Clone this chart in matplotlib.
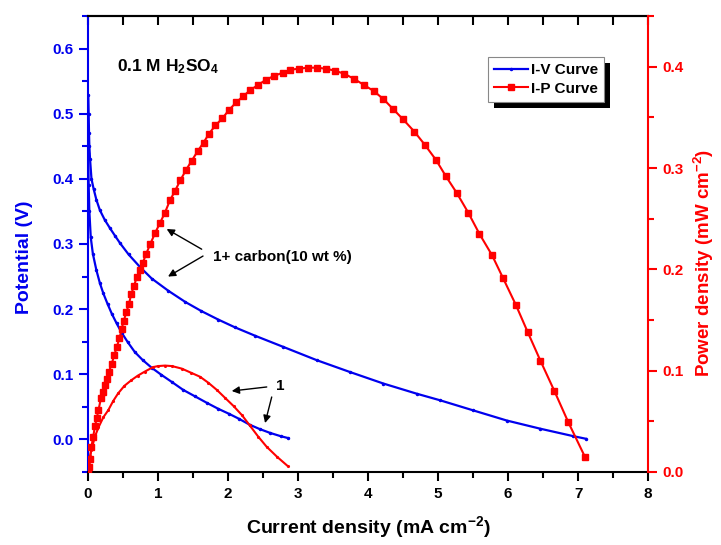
import matplotlib
matplotlib.use('Agg')
import matplotlib.pyplot as plt
from matplotlib.ticker import MultipleLocator, FormatStrFormatter
from matplotlib.patches import Rectangle
from matplotlib.transforms import IdentityTransform

plt.rcParams['font.family'] = ['Liberation Sans', 'DejaVu Sans']
plt.rcParams['font.weight'] = 'bold'
plt.rcParams['mathtext.fontset'] = 'custom'
plt.rcParams['mathtext.rm'] = 'Liberation Sans:bold'
plt.rcParams['mathtext.bf'] = 'Liberation Sans:bold'
plt.rcParams['mathtext.it'] = 'Liberation Sans:bold'

BLUE = '#0000ee'
RED = '#ff0000'

# I-V, electrode 1 + carbon (10 wt %)
iv_carbon_i = [0.005, 0.01, 0.015, 0.02, 0.03, 0.05, 0.08, 0.12, 0.17, 0.24,
               0.31, 0.39, 0.46, 0.58, 0.74, 0.91, 1.15, 1.39, 1.62, 1.86,
               2.1, 2.39, 2.79, 3.27, 3.74, 4.22, 4.70, 5.03, 5.50, 5.98,
               6.46, 6.93, 7.11]
iv_carbon_v = [0.528, 0.50, 0.47, 0.45, 0.43, 0.40, 0.385, 0.368, 0.352, 0.337,
               0.325, 0.312, 0.301, 0.284, 0.265, 0.247, 0.228, 0.211, 0.197, 0.184,
               0.172, 0.159, 0.142, 0.1215, 0.1035, 0.0857, 0.070, 0.060, 0.0446, 0.029,
               0.0164, 0.005, 0.001]

# I-V, electrode 1
iv_1_i = [0.003, 0.01, 0.02, 0.04, 0.07, 0.12, 0.17, 0.22, 0.28, 0.34,
          0.41, 0.48, 0.57, 0.67, 0.78, 0.91, 1.05, 1.2, 1.36, 1.53,
          1.70, 1.86, 2.02, 2.15, 2.31, 2.45, 2.6, 2.75, 2.86]
iv_1_v = [0.44, 0.39, 0.35, 0.31, 0.285, 0.26, 0.24, 0.224, 0.208, 0.193,
          0.178, 0.164, 0.149, 0.134, 0.122, 0.110, 0.099, 0.088, 0.076, 0.066,
          0.056, 0.047, 0.039, 0.032, 0.0225, 0.016, 0.010, 0.005, 0.002]

# I-P, electrode 1 + carbon (10 wt %)
ip_carbon_i = [0.0, 0.014, 0.03, 0.05, 0.075, 0.10, 0.125, 0.15, 0.186, 0.22,
               0.243, 0.276, 0.30, 0.34, 0.375, 0.41, 0.45, 0.48, 0.51, 0.55,
               0.586, 0.62, 0.66, 0.695, 0.74, 0.78, 0.83, 0.89, 0.96, 1.03,
               1.10, 1.17, 1.24, 1.32, 1.40, 1.48, 1.57, 1.65, 1.73, 1.82,
               1.92, 2.01, 2.12, 2.22, 2.32, 2.43, 2.54, 2.66, 2.78, 2.89,
               3.01, 3.14, 3.27, 3.40, 3.53, 3.66, 3.80, 3.94, 4.08, 4.22,
               4.36, 4.50, 4.66, 4.81, 4.97, 5.11, 5.27, 5.43, 5.59, 5.77,
               5.93, 6.11, 6.28, 6.46, 6.66, 6.86, 7.10]
ip_carbon_p = [0.0, 0.005, 0.013, 0.025, 0.035, 0.045, 0.053, 0.061, 0.073, 0.079,
               0.086, 0.092, 0.099, 0.107, 0.115, 0.123, 0.132, 0.141, 0.149, 0.158,
               0.166, 0.176, 0.184, 0.192, 0.199, 0.206, 0.215, 0.225, 0.236, 0.246,
               0.256, 0.268, 0.277, 0.288, 0.298, 0.307, 0.317, 0.325, 0.334, 0.342,
               0.349, 0.357, 0.365, 0.371, 0.377, 0.382, 0.387, 0.391, 0.394, 0.397,
               0.398, 0.399, 0.399, 0.398, 0.396, 0.393, 0.388, 0.382, 0.376, 0.368,
               0.358, 0.348, 0.336, 0.323, 0.308, 0.292, 0.275, 0.256, 0.235, 0.214,
               0.191, 0.165, 0.138, 0.110, 0.080, 0.049, 0.0145]

# I-P, electrode 1
ip_1_i = [0.0, 0.01, 0.03, 0.05, 0.10, 0.15, 0.22, 0.29, 0.36, 0.43,
          0.52, 0.62, 0.71, 0.81, 0.93, 1.0, 1.1, 1.2, 1.34, 1.47,
          1.6, 1.72, 1.84, 1.96, 2.08, 2.2, 2.31, 2.43, 2.55, 2.7, 2.85]
ip_1_p = [0.0, 0.008, 0.016, 0.022, 0.035, 0.044, 0.054, 0.061, 0.070, 0.0775,
          0.085, 0.0906, 0.095, 0.099, 0.1035, 0.1045, 0.105, 0.1045, 0.102, 0.098,
          0.094, 0.088, 0.081, 0.073, 0.065, 0.056, 0.046, 0.035, 0.025, 0.015, 0.006]

fig = plt.figure(figsize=(7.21, 5.45), dpi=100)
ax = fig.add_axes([0.122, 0.134, 0.777, 0.8366])
ax2 = ax.twinx()

line_iv, = ax.plot(iv_carbon_i, iv_carbon_v, color=BLUE, lw=1.6, marker='.', ms=3,
                   label='I-V Curve')
ax.plot(iv_1_i, iv_1_v, color=BLUE, lw=1.6, marker='.', ms=3)

line_ip, = ax2.plot(ip_carbon_i, ip_carbon_p, color=RED, lw=1.5, marker='s', ms=4,
                    label='I-P Curve')
ax2.plot(ip_1_i, ip_1_p, color=RED, lw=1.5, marker='.', ms=2.5)

ax.set_xlim(0, 8)
ax.set_ylim(-0.05, 0.65)
ax2.set_ylim(0, 0.45)

ax.xaxis.set_major_locator(MultipleLocator(1))
ax.xaxis.set_minor_locator(MultipleLocator(0.5))
ax.yaxis.set_major_locator(MultipleLocator(0.1))
ax.yaxis.set_minor_locator(MultipleLocator(0.05))
ax2.yaxis.set_major_locator(MultipleLocator(0.1))
ax2.yaxis.set_minor_locator(MultipleLocator(0.05))
ax.yaxis.set_major_formatter(FormatStrFormatter('%.1f'))
ax2.yaxis.set_major_formatter(FormatStrFormatter('%.1f'))

# spines
for sp in list(ax.spines.values()) + list(ax2.spines.values()):
    sp.set_linewidth(1.5)
ax.spines['left'].set_color(BLUE)
ax.spines['right'].set_visible(False)
ax2.spines['left'].set_visible(False)
ax2.spines['top'].set_visible(False)
ax2.spines['bottom'].set_visible(False)
ax2.spines['right'].set_color(RED)

ax.tick_params(axis='x', which='major', direction='out', length=6.5, width=1.5,
               labelsize=11, pad=4, colors='black')
ax.tick_params(axis='x', which='minor', direction='out', length=4, width=1.5)
ax.tick_params(axis='y', which='major', direction='out', length=6.5, width=1.5,
               labelsize=11, pad=4, colors=BLUE)
ax.tick_params(axis='y', which='minor', direction='out', length=4, width=1.5,
               colors=BLUE)
ax2.tick_params(axis='y', which='major', direction='out', length=6.5, width=1.5,
                labelsize=11, pad=4, colors=RED)
ax2.tick_params(axis='y', which='minor', direction='out', length=4, width=1.5,
                colors=RED)

# top axis: inward ticks, no labels
top = ax.secondary_xaxis('top')
top.xaxis.set_major_locator(MultipleLocator(0.5))
top.tick_params(axis='x', direction='in', length=6.5, width=1.5, labeltop=False)
top.spines['top'].set_linewidth(1.5)

ax.set_xlabel('Current density (mA cm$^{-2}$)', fontsize=14, fontweight='bold')
ax.set_ylabel('Potential (V)', fontsize=14, fontweight='bold', color=BLUE)
ax2.set_ylabel('Power density (mW cm$^{-2}$)', fontsize=13.5, fontweight='bold',
               color=RED)
ax.xaxis.set_label_coords(0.5, -0.092)
ax.yaxis.set_label_coords(-0.098, 0.471)
ax2.yaxis.set_label_coords(1.078, 0.458)

ax.text(0.052, 0.89, '0.1 M H$_2$SO$_4$', transform=ax.transAxes, fontsize=12.5,
        fontweight='bold', ha='left', va='center')

arrow = dict(arrowstyle='-|>', color='black', lw=1, mutation_scale=11,
             shrinkA=0, shrinkB=0)
ax.annotate('', xy=(1.124, 0.323), xytext=(1.624, 0.292), arrowprops=arrow)
ax.annotate('', xy=(1.143, 0.250), xytext=(1.643, 0.2815), arrowprops=arrow)
ax.text(1.786, 0.2805, '1+ carbon(10 wt %)', fontsize=11, fontweight='bold',
        ha='left', va='center')
ax.annotate('', xy=(2.053, 0.0743), xytext=(2.553, 0.0805), arrowprops=arrow)
ax.annotate('', xy=(2.529, 0.0251), xytext=(2.624, 0.0651), arrowprops=arrow)
ax.text(2.743, 0.0815, '1', fontsize=11, fontweight='bold', ha='center', va='center')

leg = ax2.legend(handles=[line_iv, line_ip], loc='upper left',
                 bbox_to_anchor=(0.714, 0.910), borderaxespad=0, fancybox=False,
                 framealpha=1, edgecolor='#888888', fontsize=11, handlelength=2.2,
                 handletextpad=0.2, labelspacing=0.3, borderpad=0.4)
leg.get_frame().set_linewidth(0.8)

# solid black drop shadow behind the legend box
fig.canvas.draw()
bb = leg.get_window_extent()
shadow = Rectangle((bb.x0 + 6, bb.y0 - 6), bb.width, bb.height,
                   transform=IdentityTransform(), facecolor='black',
                   edgecolor='none', zorder=4.9, clip_on=False)
ax2.add_artist(shadow)

fig.savefig('out.png', dpi=100)
